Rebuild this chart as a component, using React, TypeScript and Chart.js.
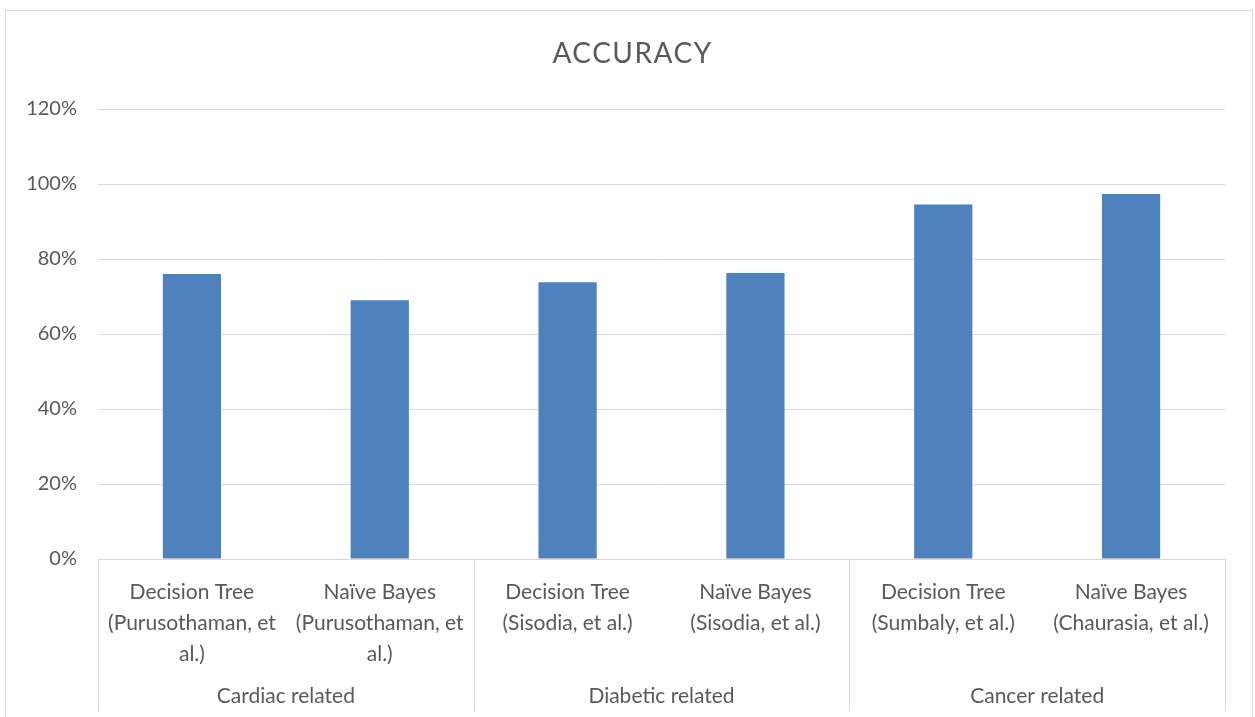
import React, { useEffect, useRef } from "react";
import { Chart, registerables } from "chart.js";

Chart.register(...registerables);

const chartTitle = "ACCURACY";
const methodLabels: string[][] = [
  ["Decision Tree", "(Purusothaman, et", "al.)"],
  ["Naïve Bayes", "(Purusothaman, et", "al.)"],
  ["Decision Tree", "(Sisodia, et al.)"],
  ["Naïve Bayes", "(Sisodia, et al.)"],
  ["Decision Tree", "(Sumbaly, et al.)"],
  ["Naïve Bayes", "(Chaurasia, et al.)"],
];
const groupLabels = ["Cardiac related", "Diabetic related", "Cancer related"];
const groupSizes = [2, 2, 2];
const accuracy = [0.76, 0.69, 0.7382, 0.763, 0.9456, 0.9736];
const yTicksMax = 1.2;
const yTickStep = 0.2;

const FONT = 'Lato, "Open Sans", "Noto Sans", sans-serif';
const TEXT = "#595959";
const LINE = "#d9d9d9";

const decorPlugin = {
  id: "decor",
  beforeDraw(chart: any) {
    const ctx = chart.ctx;
    ctx.save();
    ctx.strokeStyle = LINE;
    ctx.lineWidth = 1;
    ctx.strokeRect(5.5, 10.5, chart.width - 8, chart.height + 20);
    ctx.restore();
  },
  afterDraw(chart: any) {
    const ctx = chart.ctx;
    const xs = chart.scales.x;
    const area = chart.chartArea;
    ctx.save();
    // title
    ctx.fillStyle = TEXT;
    ctx.font = `28px ${FONT}`;
    (ctx as any).letterSpacing = "1.5px";
    ctx.textAlign = "center";
    ctx.textBaseline = "middle";
    ctx.fillText(chartTitle, chart.width / 2 + 5, 54);
    (ctx as any).letterSpacing = "0px";

    // group separators and labels
    ctx.strokeStyle = LINE;
    ctx.lineWidth = 1;
    let idx = 0;
    const bounds: number[] = [area.left];
    groupSizes.forEach((n, g) => {
      const first = idx;
      const last = idx + n - 1;
      idx += n;
      const right =
        last + 1 < methodLabels.length
          ? (xs.getPixelForValue(last) + xs.getPixelForValue(last + 1)) / 2
          : area.right;
      bounds.push(right);
      const cx = (xs.getPixelForValue(first) + xs.getPixelForValue(last)) / 2;
      ctx.font = `21px ${FONT}`;
      ctx.fillStyle = TEXT;
      ctx.textAlign = "center";
      ctx.textBaseline = "middle";
      ctx.fillText(groupLabels[g], cx, xs.bottom + 26);
    });
    bounds.forEach((b) => {
      const x = Math.round(b) + 0.5;
      ctx.beginPath();
      ctx.moveTo(x, xs.top);
      ctx.lineTo(x, chart.height - 6);
      ctx.stroke();
    });
    ctx.restore();
  },
};

export default function App() {
  const ref = useRef<HTMLCanvasElement | null>(null);
  useEffect(() => {
    if (!ref.current) return;
    const chart = new Chart(ref.current, {
      type: "bar",
      data: {
        labels: methodLabels,
        datasets: [
          {
            label: "Accuracy",
            data: accuracy,
            backgroundColor: "#4f81bd",
            borderWidth: 0,
            categoryPercentage: 1,
            barPercentage: 0.31,
          },
        ],
      },
      options: {
        animation: false,
        responsive: true,
        maintainAspectRatio: false,
        layout: { padding: { top: 109, right: 30, bottom: 47, left: 0 } },
        plugins: {
          legend: { display: false },
          tooltip: { enabled: false },
          title: { display: false },
        },
        scales: {
          x: {
            grid: { display: false, drawTicks: false },
            border: { display: true, color: LINE, width: 1 },
            ticks: {
              color: TEXT,
              font: { family: FONT, size: 21, lineHeight: 1.48 },
              padding: 18,
              autoSkip: false,
              maxRotation: 0,
              minRotation: 0,
            },
            afterFit(scale: any) {
              scale.height = 111;
            },
          },
          y: {
            min: 0,
            max: yTicksMax,
            grid: { color: LINE, lineWidth: 1, drawTicks: false },
            border: { display: false },
            ticks: {
              stepSize: yTickStep,
              color: TEXT,
              font: { family: FONT, size: 20 },
              padding: 21,
              callback: (v: any) => `${Math.round(Number(v) * 100)}%`,
            },
            afterFit(scale: any) {
              scale.width = 98;
            },
          },
        },
      },
      plugins: [decorPlugin],
    });
    return () => chart.destroy();
  }, []);
  return (
    <div
      style={{
        position: "fixed",
        left: 0,
        top: 0,
        width: "1255px",
        height: "717px",
        background: "#fff",
      }}
    >
      <canvas ref={ref} />
    </div>
  );
}
